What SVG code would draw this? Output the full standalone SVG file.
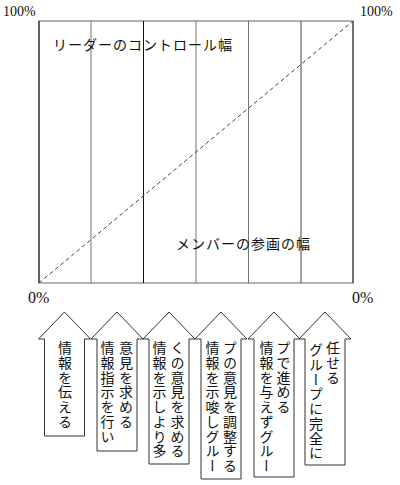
<svg xmlns="http://www.w3.org/2000/svg" width="400" height="485" viewBox="0 0 400 485">
<style>
.pct{font-family:"Liberation Serif","Times New Roman",serif;font-size:14px;fill:#111}
.lbl{font-family:"Noto Sans CJK JP","Noto Sans",sans-serif;font-size:14px;letter-spacing:1px;fill:#111}
.vt{font-family:"Noto Sans CJK JP","Noto Sans CJK SC",sans-serif;font-size:14px;letter-spacing:0.7px;fill:#111;writing-mode:vertical-rl}
.arrow{fill:#fff;stroke:#333;stroke-width:1}
.grid{stroke-width:1;fill:none}
</style>
<rect width="400" height="485" fill="#fff"/>
<g id="chart">
  <rect x="39" y="21" width="314" height="262" class="grid" stroke="#666"/>
  <line x1="39" y1="21" x2="39" y2="283" stroke="#111" class="grid"/>
  <line x1="91" y1="21" x2="91" y2="283" stroke="#777" class="grid"/>
  <line x1="143.5" y1="21" x2="143.5" y2="283" stroke="#111" class="grid"/>
  <line x1="196" y1="21" x2="196" y2="283" stroke="#777" class="grid"/>
  <line x1="248.5" y1="21" x2="248.5" y2="283" stroke="#777" class="grid"/>
  <line x1="301" y1="21" x2="301" y2="283" stroke="#444" class="grid"/>
  <line x1="353" y1="21" x2="353" y2="283" stroke="#333" class="grid"/>
  <line x1="39" y1="283" x2="353" y2="21" stroke="#444" stroke-dasharray="4 3" class="grid"/>
  <text class="pct" x="3" y="16">100%</text>
  <text class="pct" x="360" y="16">100%</text>
  <text class="pct" x="28" y="303" style="font-size:16px">0%</text>
  <text class="pct" x="352" y="303" style="font-size:16px">0%</text>
  <text class="lbl" x="53" y="50">リーダーのコントロール幅</text>
  <text class="lbl" x="176" y="249">メンバーの参画の幅</text>
</g>
<g id="arrow1">
  <path class="arrow" d="M44.5,436 V339 H38.5 L64.5,312 L90.5,339 H84.5 V436 Z"/>
  <text class="vt" x="65" y="341">情報を伝える</text>
</g>
<g id="arrow2">
  <path class="arrow" d="M97,451 V339 H91 L117,312 L143,339 H137 V451 Z"/>
  <text class="vt" x="126" y="341">意見を求める</text>
  <text class="vt" x="107.5" y="341">情報指示を行い</text>
</g>
<g id="arrow3">
  <path class="arrow" d="M149,464 V339 H143 L169,312 L195,339 H189 V464 Z"/>
  <text class="vt" x="177.5" y="341">くの意見を求める</text>
  <text class="vt" x="159.5" y="341">情報を示しより多</text>
</g>
<g id="arrow4">
  <path class="arrow" d="M201,479 V339 H195 L221,312 L247,339 H241 V479 Z"/>
  <text class="vt" x="230" y="341">プの意見を調整する</text>
  <text class="vt" x="212.5" y="341">情報を示唆しグルー</text>
</g>
<g id="arrow5">
  <path class="arrow" d="M254,477 V339 H248 L274,312 L300,339 H294 V477 Z"/>
  <text class="vt" x="283.5" y="341">プで進める</text>
  <text class="vt" x="266.5" y="341">情報を与えずグルー</text>
</g>
<g id="arrow6">
  <path class="arrow" d="M305,465 V339 H299 L325,312 L351,339 H345 V465 Z"/>
  <text class="vt" x="333" y="341">任せる</text>
  <text class="vt" x="316" y="343">グループに完全に</text>
</g>
</svg>
